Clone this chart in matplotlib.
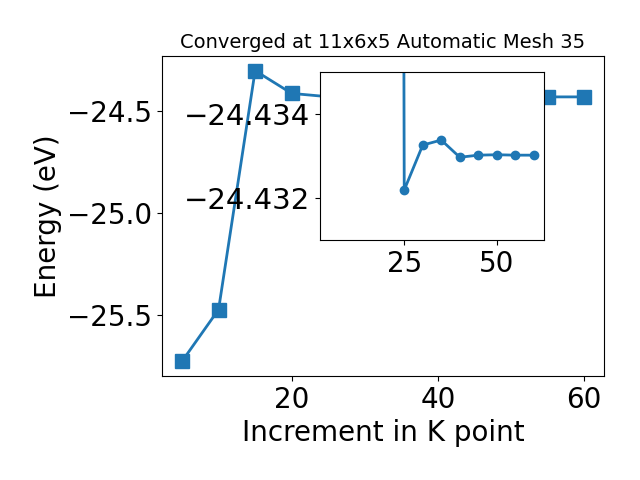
import matplotlib
matplotlib.use("Agg")
import matplotlib.pyplot as plt

# Main data
kpoints = [5, 10, 15, 20, 25, 30, 35, 40, 45, 50, 55, 60]
energy = [-25.725, -25.472, -24.305, -24.416, -24.43219, -24.43326, -24.43338,
          -24.43297, -24.43302, -24.43303, -24.43302, -24.43302]

# Inset data (point at 20 lies far off the inset's inverted scale)
inset_k = [20, 25, 30, 35, 40, 45, 50, 55, 60]
inset_energy = [-24.6, -24.43219, -24.43326, -24.43338, -24.43297,
                -24.43302, -24.43303, -24.43302, -24.43302]

fig = plt.figure(figsize=(6.4, 4.8), dpi=100)
ax = fig.add_axes([0.253, 0.217, 0.691, 0.666])
ax.plot(kpoints, energy, marker='s', markersize=10, linewidth=2, color='#1f77b4')
ax.set_xlabel('Increment in K point', fontsize=20)
ax.set_ylabel('Energy (eV)', fontsize=20)
ax.tick_params(labelsize=20)
ax.set_title('Converged at 11x6x5 Automatic Mesh 35', fontsize=14)
ax.set_xticks([20, 40, 60])
ax.set_yticks([-24.5, -25.0, -25.5])

ins = fig.add_axes([0.5, 0.5, 0.35, 0.35])
ins.plot(inset_k, inset_energy, marker='o', markersize=6, linewidth=2, color='#1f77b4')
ins.set_xlim(2.25, 62.75)
ins.set_ylim(-24.431, -24.435)
ins.set_xticks([25, 50])
ins.set_yticks([-24.434, -24.432])
ins.ticklabel_format(axis='y', useOffset=False)
ins.tick_params(axis='x', labelsize=20)
ins.tick_params(axis='y', labelsize=21)

fig.savefig('out.png', dpi=100)
